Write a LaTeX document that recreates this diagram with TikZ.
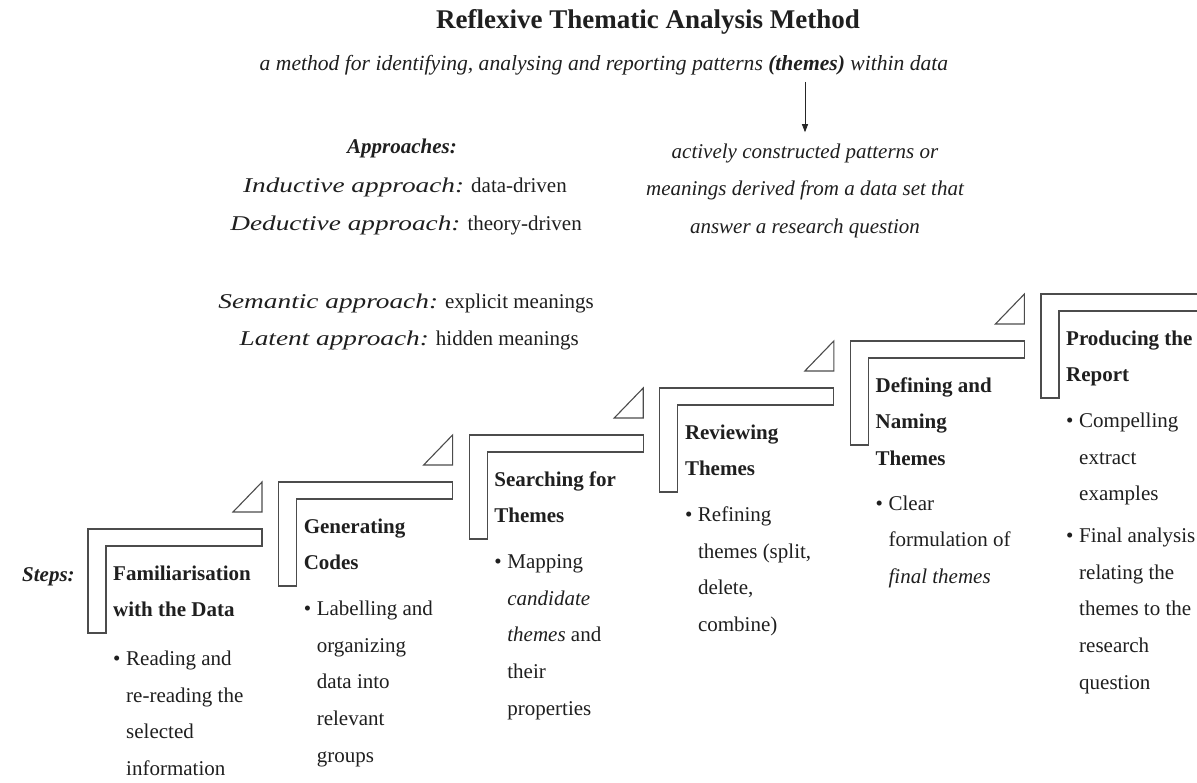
\documentclass[tikz,border=0pt]{standalone}
\usepackage{fontspec}
\setmainfont{Liberation Serif}
\newfontfamily\wideit[FakeStretch=1.3]{Liberation Serif}
\usetikzlibrary{arrows.meta}
\newcommand\bul{\makebox[13pt][l]{\textbullet}}
\newcommand\ind{\hspace*{13pt}}
\newcommand\stepfont{\fontsize{21}{36.7}\selectfont}
\newcommand\hd[1]{\textbf{#1}}
\newcommand\apit[1]{{\wideit\itshape #1}}
\begin{document}
\begin{tikzpicture}[x=1pt,y=-1pt,
  lshape/.style={draw=black!70, line width=1.1pt, fill=white, line join=miter},
  txt/.style={inner sep=0pt, text=black!88},
  stepbox/.style={txt, anchor=base west},
  apline/.style={txt, anchor=base east, font=\stepfont},
  arr/.style={-{Triangle[length=8pt,width=6pt]}, line width=0.9pt, draw=black!85}]
\clip (0,0) rectangle (1197,782);
\fill[white] (0,0) rectangle (1197,782);

% staircase shapes
\foreach \i in {0,...,5}{
  \pgfmathsetmacro\L{88+190.6*\i}
  \pgfmathsetmacro\T{529-47*\i}
  \draw[lshape] (\L,\T) -- ++(174,0) -- ++(0,17) -- ++(-156,0) -- ++(0,87) -- ++(-18,0) -- cycle;
}
\foreach \i in {0,...,4}{
  \pgfmathsetmacro\L{88+190.6*\i}
  \pgfmathsetmacro\T{529-47*\i}
  \draw[lshape] ({\L+174},{\T-47}) -- ({\L+174},{\T-17}) -- ({\L+145},{\T-17}) -- cycle;
}

% title and subtitle
\node[txt, anchor=base, font=\fontsize{27}{32}\selectfont\bfseries] (title) at (648,28)
  {Reflexive Thematic Analysis Method};
\node[txt, anchor=base, font=\fontsize{21.6}{25}\selectfont\itshape] (sub) at (604,70)
  {a method for identifying, analysing and reporting patterns \textbf{(themes)} within data};

% definition of themes
\node[txt, anchor=base] (rb) at (805,158)
  {\parbox[t]{380pt}{\centering\fontsize{21}{37.5}\selectfont\itshape
   actively constructed patterns or\\
   meanings derived from a data set that\\
   answer a research question}};
\draw[arr, shorten <=7pt, shorten >=11pt] (sub.south -| rb.north) -- (rb.north);

% approaches
\node[txt, anchor=base, font=\stepfont\bfseries\itshape] (appr) at (402,153) {Approaches:};
\node[apline] (ind) at (567,192) {\apit{Inductive approach:} data-driven};
\node[apline] (ded) at (582,230) {\apit{Deductive approach:} theory-driven};
\node[apline] (sem) at (594,308) {\apit{Semantic approach:} explicit meanings};
\node[apline] (lat) at (579,345) {\apit{Latent approach:} hidden meanings};

% steps label
\node[txt, anchor=base west, font=\stepfont\bfseries\itshape] (steps) at (22,581) {Steps:};

% step texts
\node[stepbox] (s1) at (113,580) {\parbox[t]{180pt}{\stepfont
  \hd{Familiarisation}\\ \hd{with the Data}\\[12pt]
  \bul Reading and\\ \ind re-reading the\\ \ind selected\\ \ind information}};
\node[stepbox] (s2) at (303.6,533) {\parbox[t]{180pt}{\stepfont
  \hd{Generating}\\ \hd{Codes}\\[9pt]
  \bul Labelling and\\ \ind organizing\\ \ind data into\\ \ind relevant\\ \ind groups}};
\node[stepbox] (s3) at (494.2,486) {\parbox[t]{180pt}{\stepfont
  \hd{Searching for}\\ \hd{Themes}\\[9pt]
  \bul Mapping\\ \ind \textit{candidate}\\ \ind \textit{themes} and\\ \ind their\\ \ind properties}};
\node[stepbox] (s4) at (684.8,439) {\parbox[t]{180pt}{\stepfont
  \hd{Reviewing}\\ \hd{Themes}\\[9pt]
  \bul Refining\\ \ind themes (split,\\ \ind delete,\\ \ind combine)}};
\node[stepbox] (s5) at (875.4,392) {\parbox[t]{180pt}{\stepfont
  \hd{Defining and}\\ \hd{Naming}\\ \hd{Themes}\\[8pt]
  \bul Clear\\ \ind formulation of\\ \ind \textit{final themes}}};
\node[stepbox] (s6) at (1066,345) {\parbox[t]{180pt}{\stepfont
  \hd{Producing the}\\ \hd{Report}\\[9pt]
  \bul Compelling\\ \ind extract\\ \ind examples\\[5pt]
  \bul Final analysis\\ \ind relating the\\ \ind themes to the\\ \ind research\\ \ind question}};
\end{tikzpicture}
\end{document}
